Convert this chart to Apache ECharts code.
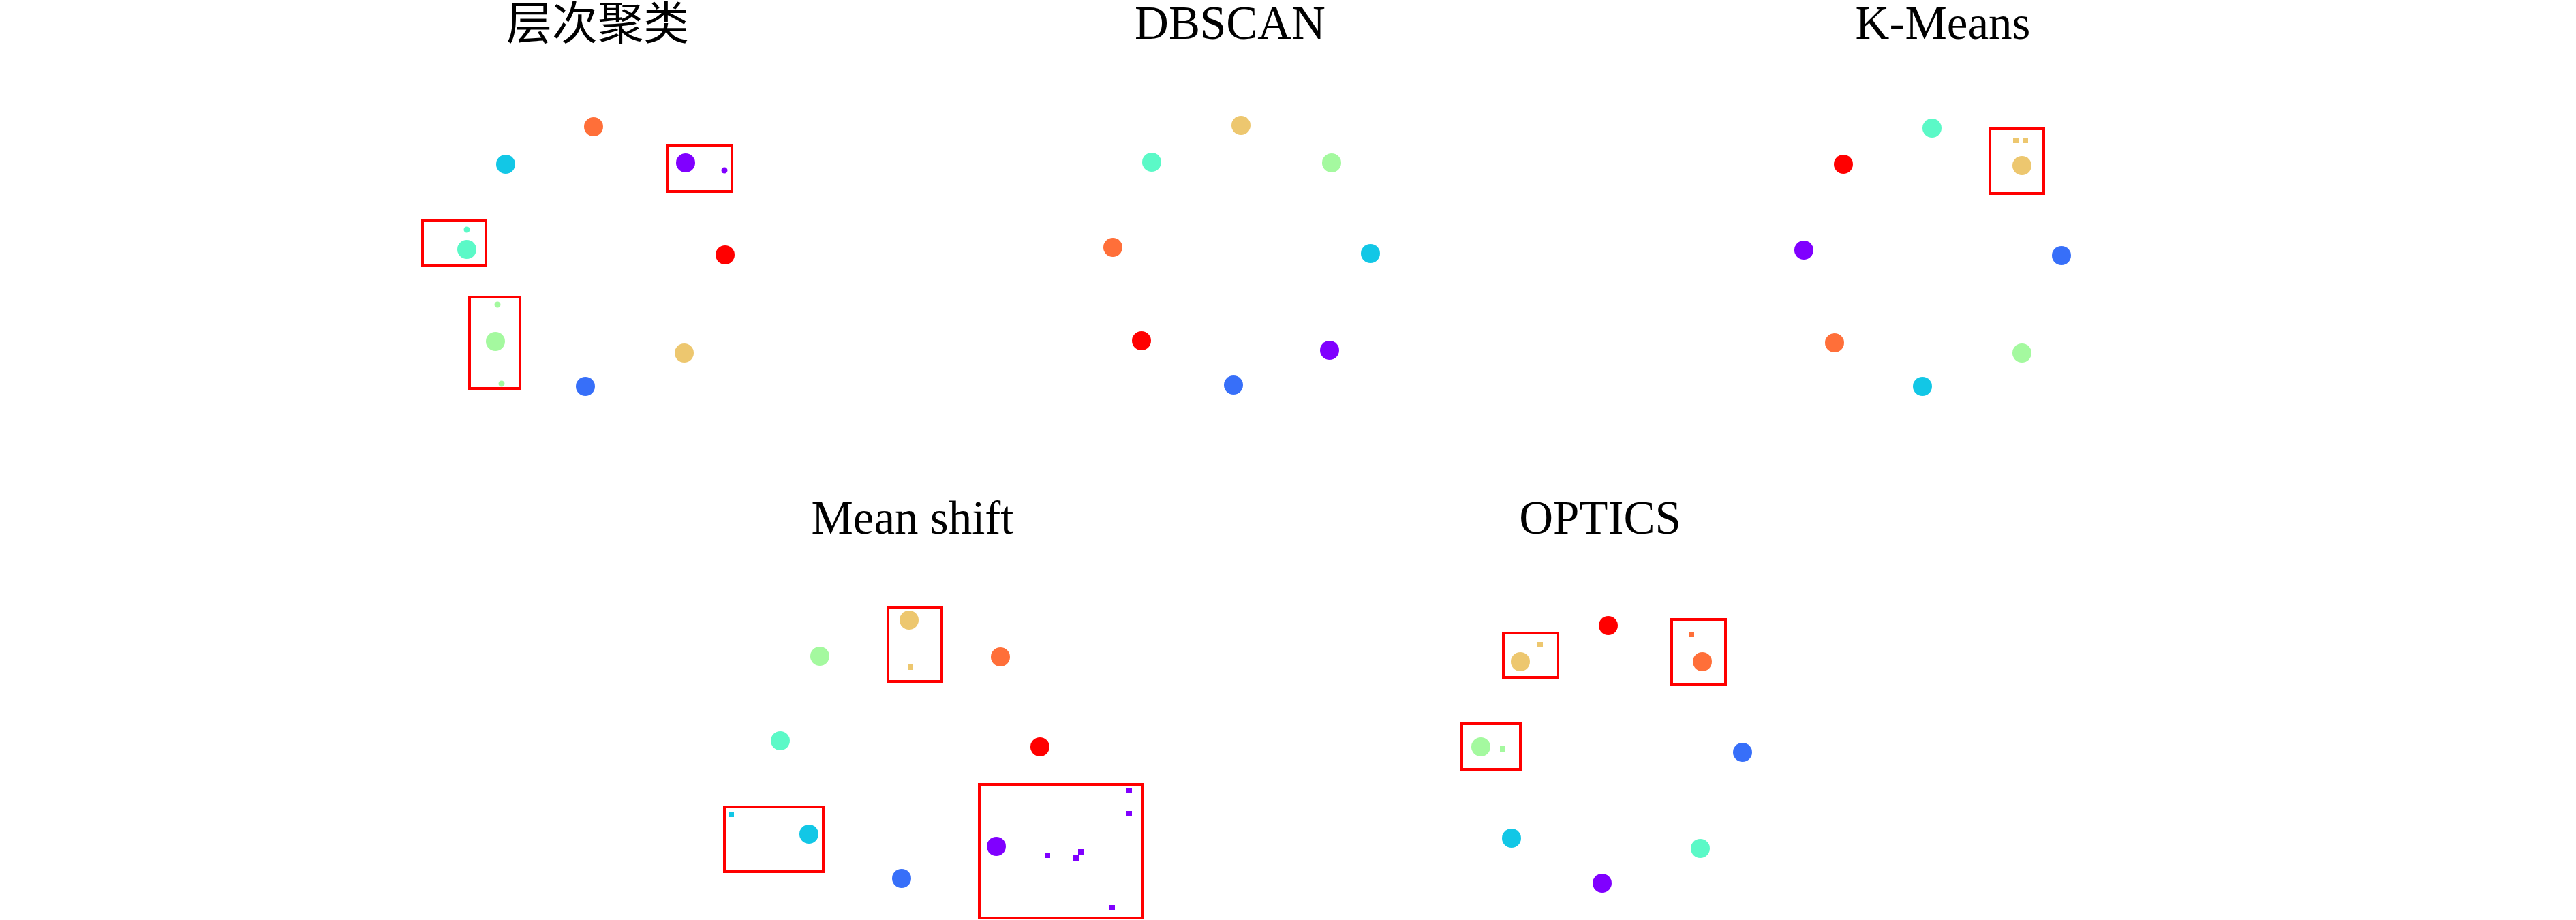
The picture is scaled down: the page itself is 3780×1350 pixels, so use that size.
<!DOCTYPE html>
<html>
<head>
<meta charset="utf-8">
<script src="https://cdn.jsdelivr.net/npm/echarts@6/dist/echarts.min.js"></script>
<style>
html,body{margin:0;padding:0;background:#fff;}
#chart{width:3780px;height:1350px;}
</style>
</head>
<body>
<div id="chart"></div>
<script>
// ---- data (x, y, cluster index) ----
const panelTitles = ['层次聚类', 'DBSCAN', 'K-Means', 'Mean shift', 'OPTICS'];

const hcBlobs = [[27.1,41.4,6],[14.2,35.9,2],[40.6,36.1,0],[46.4,22.6,7],[8.5,23.4,3],[12.7,9.9,4],[25.9,3.3,1],[40.4,8.2,5]];
const hcOutliers = [[46.3,35.0,0],[8.5,26.3,3],[13.0,15.3,4],[13.6,3.7,4]];
const hcBoxes = [[38.0,31.9,47.4,38.6],[2.0,21.0,11.3,27.6],[8.9,3.0,16.3,16.4]];

const dbBlobs = [[27.1,41.6,5],[14.0,36.2,3],[40.4,36.1,4],[8.3,23.7,6],[46.1,22.8,2],[12.5,10.0,7],[40.1,8.6,0],[26.0,3.5,1]];
const dbOutliers = [];
const dbBoxes = [];

const kmBlobs = [[23.5,41.2,3],[10.5,35.9,7],[36.7,35.7,5],[4.7,23.3,0],[42.5,22.5,1],[9.2,9.7,6],[36.7,8.2,4],[22.1,3.3,2]];
const kmOutliers = [[35.8,39.4,5],[37.2,39.4,5]];
const kmBoxes = [[32.0,31.6,39.9,41.1]];

const msBlobs = [[28.4,44.0,5],[15.3,38.7,4],[41.8,38.6,6],[9.5,26.3,3],[47.6,25.4,7],[13.7,12.6,2],[27.3,6.1,1],[41.2,10.8,0]];
const msOutliers = [[28.6,37.1,5],[2.3,15.5,2],[48.7,9.5,0],[53.6,10.0,0],[52.9,9.1,0],[60.7,19.0,0],[60.7,15.6,0],[58.2,1.8,0]];
const msBoxes = [[25.3,35.0,33.2,45.9],[1.3,7.1,15.8,16.6],[38.7,0.3,62.6,19.9]];

const opBlobs = [[26.0,43.2,7],[13.1,37.9,5],[39.8,37.9,6],[7.3,25.4,4],[45.7,24.6,1],[11.8,12.0,2],[39.5,10.5,3],[25.1,5.4,0]];
const opOutliers = [[16.0,40.4,5],[38.2,41.9,6],[10.5,25.1,4]];
const opBoxes = [[10.6,35.6,18.6,42.1],[35.3,34.6,43.2,44.1],[4.5,22.1,13.1,28.8]];

// ---- styling / layout ----
const palette = ['#8000ff','#376ff9','#12c7e6','#5bf9c7','#a4f99f','#edc76f','#ff6f39','#ff0000'];

const panels = [
  {title: panelTitles[0], blobs: hcBlobs, outliers: hcOutliers, boxes: hcBoxes, outSym: 'circle', outSize: 9,
   grid: {left: 600, top: 150, width: 500, height: 450}, xMax: 50, yMax: 45, tx: 877, ty: 33, cjk: true},
  {title: panelTitles[1], blobs: dbBlobs, outliers: dbOutliers, boxes: dbBoxes, outSym: 'rect', outSize: 8,
   grid: {left: 1550, top: 150, width: 500, height: 450}, xMax: 50, yMax: 45, tx: 1805, ty: 39},
  {title: panelTitles[2], blobs: kmBlobs, outliers: kmOutliers, boxes: kmBoxes, outSym: 'rect', outSize: 8,
   grid: {left: 2600, top: 150, width: 500, height: 450}, xMax: 50, yMax: 45, tx: 2851, ty: 39},
  {title: panelTitles[3], blobs: msBlobs, outliers: msOutliers, boxes: msBoxes, outSym: 'rect', outSize: 8,
   grid: {left: 1050, top: 870, width: 650, height: 480}, xMax: 65, yMax: 48, tx: 1339, ty: 765},
  {title: panelTitles[4], blobs: opBlobs, outliers: opOutliers, boxes: opBoxes, outSym: 'rect', outSize: 8,
   grid: {left: 2100, top: 870, width: 500, height: 480}, xMax: 50, yMax: 48, tx: 2348, ty: 765}
];

const grids = [], xAxes = [], yAxes = [], series = [], graphics = [];
panels.forEach((p, i) => {
  grids.push(Object.assign({containLabel: false}, p.grid));
  xAxes.push({type: 'value', gridIndex: i, min: 0, max: p.xMax, show: false});
  yAxes.push({type: 'value', gridIndex: i, min: 0, max: p.yMax, show: false});
  const colorFn = params => palette[params.data[2]];
  series.push({
    type: 'scatter', xAxisIndex: i, yAxisIndex: i, clip: false,
    symbol: 'circle', symbolSize: 28, data: p.blobs,
    itemStyle: {color: colorFn, opacity: 1},
    markArea: {
      silent: true,
      itemStyle: {color: 'rgba(0,0,0,0)', borderColor: '#ff0000', borderWidth: 4},
      data: p.boxes.map(b => [{coord: [b[0], b[1]]}, {coord: [b[2], b[3]]}])
    }
  });
  series.push({
    type: 'scatter', xAxisIndex: i, yAxisIndex: i, clip: false,
    symbol: p.outSym, symbolSize: p.outSize, data: p.outliers,
    itemStyle: {color: colorFn, opacity: 1}
  });
  graphics.push({
    type: 'text', x: p.tx, y: p.ty, silent: true,
    style: {
      text: p.title,
      fill: '#000',
      font: p.cjk ? '400 67px "Noto Sans CJK SC"' : '400 69px "Liberation Serif"',
      textAlign: 'center', textVerticalAlign: 'middle'
    }
  });
});

const chart = echarts.init(document.getElementById('chart'), null, {renderer: 'canvas'});
chart.setOption({
  backgroundColor: '#ffffff',
  animation: false,
  grid: grids,
  xAxis: xAxes,
  yAxis: yAxes,
  series: series,
  graphic: graphics
});
</script>
</body>
</html>
